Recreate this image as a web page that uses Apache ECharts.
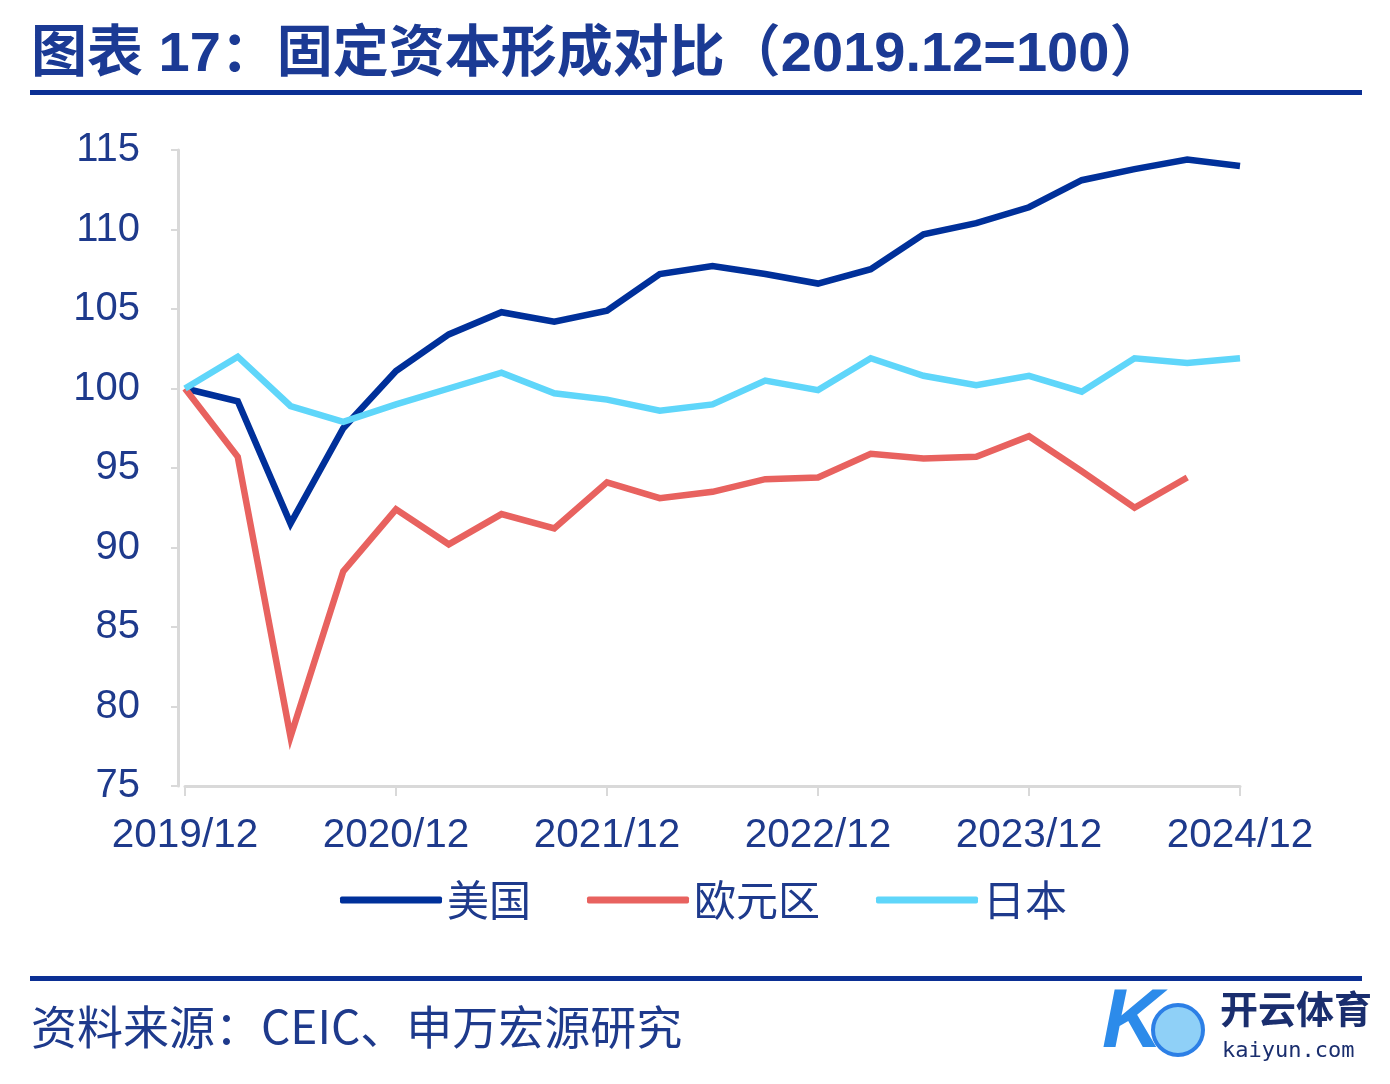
<!DOCTYPE html>
<html>
<head>
<meta charset="utf-8">
<script src="https://cdn.jsdelivr.net/npm/echarts@6/dist/echarts.min.js"></script>
<style>html,body{margin:0;padding:0;background:#fff;}#c{width:1390px;height:1084px;}</style>
</head>
<body>
<div id="c"></div>
<script>
const categories = ['2019/12','2020/03','2020/06','2020/09','2020/12','2021/03','2021/06','2021/09','2021/12','2022/03','2022/06','2022/09','2022/12','2023/03','2023/06','2023/09','2023/12','2024/03','2024/06','2024/09','2024/12'];
const usValues = [100, 99.2, 91.5, 97.5, 101.1, 103.4, 104.8, 104.2, 104.9, 107.2, 107.7, 107.2, 106.6, 107.5, 109.7, 110.4, 111.4, 113.1, 113.8, 114.4, 114.0];
const euroValues = [100, 95.7, 78.1, 88.5, 92.4, 90.2, 92.1, 91.2, 94.1, 93.1, 93.5, 94.3, 94.4, 95.9, 95.6, 95.7, 97.0, 94.8, 92.5, 94.4, null];
const japanValues = [100, 102.0, 98.9, 97.9, 99.0, 100.0, 101.0, 99.7, 99.3, 98.6, 99.0, 100.5, 99.9, 101.9, 100.8, 100.2, 100.8, 99.8, 101.9, 101.6, 101.9];
const seriesNames = ['美国', '欧元区', '日本'];

const TXT = '#1E3A8C';
const FONT = '"Liberation Sans", Arial, "Noto Sans CJK SC", sans-serif';
const chart = echarts.init(document.getElementById('c'), null, {renderer: 'canvas'});
const mk = (name, data, color) => ({
  name, type: 'line', data, showSymbol: false, symbol: 'none',
  lineStyle: {color, width: 6.5, join: 'miter'}, itemStyle: {color},
  connectNulls: false
});
chart.setOption({
  backgroundColor: '#fff',
  animation: false,
  grid: {left: 185, right: 150, top: 150, bottom: 298, containLabel: false},
  xAxis: {
    type: 'category', data: categories, boundaryGap: false,
    axisLine: {lineStyle: {color: '#D9D9D9', width: 3}},
    axisTick: {show: true, interval: 3, length: 10, lineStyle: {color: '#D9D9D9', width: 2}},
    axisLabel: {interval: 3, color: TXT, fontSize: 40.5, fontFamily: FONT, margin: 30},
    splitLine: {show: false}
  },
  yAxis: {
    type: 'value', min: 75, max: 115, interval: 5, offset: 7,
    axisLine: {show: true, lineStyle: {color: '#D9D9D9', width: 3}},
    axisTick: {show: true, length: 7, lineStyle: {color: '#D9D9D9', width: 2}},
    axisLabel: {color: TXT, fontSize: 40, fontFamily: FONT, margin: 38},
    splitLine: {show: false}
  },
  legend: {
    data: seriesNames, left: 340, top: 879, itemGap: 56, itemWidth: 102, itemHeight: 7,
    icon: 'roundRect', padding: 0,
    textStyle: {color: TXT, fontSize: 42, fontFamily: '"Noto Sans CJK SC", sans-serif'}
  },
  series: [
    mk(seriesNames[0], usValues, '#00309A'),
    mk(seriesNames[1], euroValues, '#E8625F'),
    mk(seriesNames[2], japanValues, '#5FD6FA')
  ],
  graphic: [
    {type: 'text', left: 31, top: 28, style: {text: '图表 17：固定资本形成对比（2019.12=100）', fill: '#1B3A94', font: 'bold 56px "Liberation Sans", Arial, "Noto Sans CJK SC", sans-serif'}},
    {type: 'rect', shape: {x: 30, y: 90, width: 1332, height: 5}, style: {fill: '#0B2F94'}},
    {type: 'rect', shape: {x: 30, y: 976, width: 1332, height: 5}, style: {fill: '#0B2F94'}},
    {type: 'text', left: 31, top: 1004, style: {text: '资料来源：CEIC、申万宏源研究', fill: '#1E3A8C', font: '46px "Noto Sans CJK SC", sans-serif'}},
    {type: 'circle', shape: {cx: 1178, cy: 1030, r: 25}, style: {fill: '#8FD0F7', stroke: '#2C7FE6', lineWidth: 4}},
    {type: 'text', left: 1102, top: 982, style: {text: 'K', fill: '#2C8BEA', font: 'italic bold 84px "Liberation Sans", Arial, sans-serif'}},
    {type: 'text', left: 1220, top: 990, style: {text: '开云体育', fill: '#1A2E6E', font: 'bold 38px "Noto Sans CJK SC", sans-serif'}},
    {type: 'text', left: 1222, top: 1040, style: {text: 'kaiyun.com', fill: '#1A2E6E', font: '22px "DejaVu Sans Mono", monospace'}}
  ]
});
</script>
</body>
</html>
